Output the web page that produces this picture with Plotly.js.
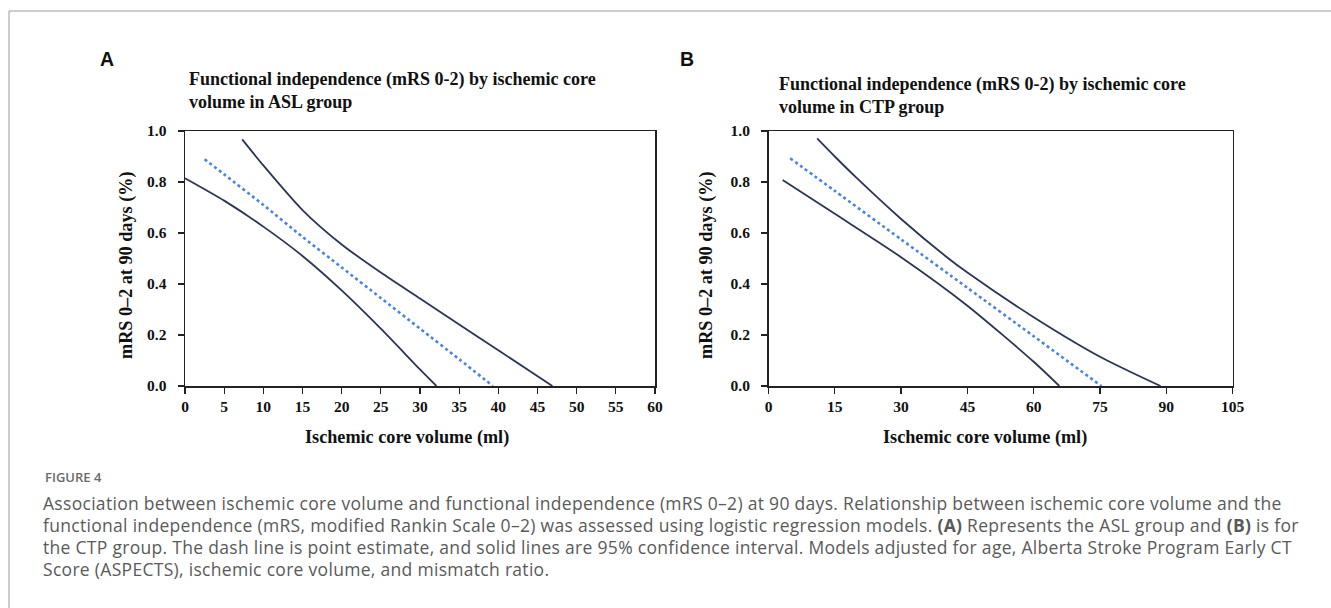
<!DOCTYPE html>
<html>
<head>
<meta charset="utf-8">
<script src="https://cdn.plot.ly/plotly-3.0.1.min.js"></script>
<style>html,body{margin:0;padding:0;background:#fff;}#chart{width:1331px;height:608px;}</style>
</head>
<body>
<div id="chart"></div>
<script>
// Panel A (ASL group)
const aEstX = [2.5, 5, 10, 15, 20, 25, 30, 35, 39.3];
const aEstY = [0.889, 0.83, 0.71, 0.585, 0.465, 0.345, 0.225, 0.105, 0.0];
const aLowX = [0, 5, 10, 15, 20, 25, 30, 32.1];
const aLowY = [0.815, 0.727, 0.625, 0.51, 0.375, 0.225, 0.065, 0.0];
const aUpX = [7.3, 10, 15, 20, 25, 30, 35, 40, 46.9];
const aUpY = [0.967, 0.865, 0.69, 0.555, 0.445, 0.343, 0.241, 0.14, 0.0];
// Panel B (CTP group)
const bEstX = [4.9, 15, 30, 45, 60, 75.3];
const bEstY = [0.893, 0.765, 0.575, 0.385, 0.195, 0.0];
const bLowX = [3.2, 15, 30, 45, 60, 65.8];
const bLowY = [0.808, 0.675, 0.505, 0.315, 0.095, 0.0];
const bUpX = [11, 15, 20, 30, 40, 45, 60, 75, 88.7];
const bUpY = [0.971, 0.90, 0.815, 0.655, 0.51, 0.445, 0.27, 0.115, 0.0];

const xTitle = "Ischemic core volume (ml)";
const yTitle = "mRS 0–2 at 90 days (%)";
const titleA = "Functional independence (mRS 0-2) by ischemic core<br>volume in ASL group";
const titleB = "Functional independence (mRS 0-2) by ischemic core<br>volume in CTP group";
const figLabel = "FIGURE 4";
const captionLines = [
  "Association between ischemic core volume and functional independence (mRS 0–2) at 90 days. Relationship between ischemic core volume and the",
  "functional independence (mRS, modified Rankin Scale 0–2) was assessed using logistic regression models. <b>(A)</b> Represents the ASL group and <b>(B)</b> is for",
  "the CTP group. The dash line is point estimate, and solid lines are 95% confidence interval. Models adjusted for age, Alberta Stroke Program Early CT",
  "Score (ASPECTS), ischemic core volume, and mismatch ratio."
];

const W = 1331, H = 608;
const px = v => v / W, py = v => 1 - v / H;

const solid = {color: '#2b3656', width: 1.8, shape: 'spline', smoothing: 0.7};
const dotted = {color: '#4a84e0', width: 2.6, dash: 'dot', shape: 'spline', smoothing: 0.7};

const traces = [
  {x: aLowX, y: aLowY, mode: 'lines', line: solid, xaxis: 'x', yaxis: 'y', name: 'Lower 95% CI'},
  {x: aUpX, y: aUpY, mode: 'lines', line: solid, xaxis: 'x', yaxis: 'y', name: 'Upper 95% CI'},
  {x: aEstX, y: aEstY, mode: 'lines', line: dotted, xaxis: 'x', yaxis: 'y', name: 'Point estimate'},
  {x: bLowX, y: bLowY, mode: 'lines', line: solid, xaxis: 'x2', yaxis: 'y2', name: 'Lower 95% CI'},
  {x: bUpX, y: bUpY, mode: 'lines', line: solid, xaxis: 'x2', yaxis: 'y2', name: 'Upper 95% CI'},
  {x: bEstX, y: bEstY, mode: 'lines', line: dotted, xaxis: 'x2', yaxis: 'y2', name: 'Point estimate'}
];

const serif = 'Liberation Serif, Times New Roman, serif';
const tickFont = {family: serif, size: 15.5, color: '#111', weight: 'bold'};
const axTitleFont = {family: serif, size: 18.2, color: '#111', weight: 'bold'};
const titleFont = {family: serif, size: 18, color: '#111', weight: 'bold'};

function xax(domain, max, dtick, anchor) {
  return {
    domain: domain, range: [0, max], dtick: dtick, tick0: 0, anchor: anchor,
    showline: true, linecolor: '#222', linewidth: 1.5, mirror: true,
    ticks: 'outside', ticklen: 6, tickwidth: 1.3, tickcolor: '#222',
    showgrid: false, zeroline: false, fixedrange: true,
    tickfont: tickFont
  };
}
function yax(domain, anchor) {
  return {
    domain: domain, range: [0, 1], dtick: 0.2, tick0: 0, tickformat: '.1f', anchor: anchor,
    showline: true, linecolor: '#222', linewidth: 1.5, mirror: true,
    ticks: 'outside', ticklen: 6, tickwidth: 1.3, tickcolor: '#222',
    ticklabelstandoff: 8,
    showgrid: false, zeroline: false, fixedrange: true,
    tickfont: tickFont
  };
}

const capFont = {family: 'Open Sans, Noto Sans, sans-serif', size: 17.5, color: '#5a5a5a'};
const captionAnn = captionLines.map((t, i) => ({
  text: t, xref: 'paper', yref: 'paper', x: px(43), y: py(503 + 22 * i), xanchor: 'left', yanchor: 'middle',
  showarrow: false, font: capFont
}));

function ann(text, x, y, font, extra) {
  return Object.assign({text: text, xref: 'paper', yref: 'paper', x: px(x), y: py(y), xanchor: 'center', yanchor: 'middle',
    showarrow: false, font: font}, extra || {});
}

const yDom = [py(386), py(131)];
const layout = {
  width: W, height: H,
  margin: {l: 0, r: 0, t: 0, b: 0},
  paper_bgcolor: '#ffffff', plot_bgcolor: '#ffffff',
  showlegend: false,
  font: {family: serif, color: '#111'},
  xaxis: xax([px(185), px(655)], 60, 5, 'y'),
  yaxis: yax(yDom, 'x'),
  xaxis2: xax([px(768.5), px(1232.6)], 105, 15, 'y2'),
  yaxis2: yax(yDom, 'x2'),
  shapes: [
    {type: 'line', xref: 'paper', yref: 'paper', x0: px(9), x1: 1, y0: py(11), y1: py(11), line: {color: '#9a9a9a', width: 1}},
    {type: 'line', xref: 'paper', yref: 'paper', x0: px(9), x1: px(9), y0: py(11), y1: 0, line: {color: '#9a9a9a', width: 1}}
  ],
  annotations: [
    ann('<b>A</b>', 106.5, 59, {family: 'Liberation Sans, Arial, sans-serif', size: 19.5, color: '#111'}),
    ann('<b>B</b>', 687, 59, {family: 'Liberation Sans, Arial, sans-serif', size: 19.5, color: '#111'}),
    ann(titleA, 187, 90.5, titleFont, {xanchor: 'left', align: 'left'}),
    ann(titleB, 777, 95.5, titleFont, {xanchor: 'left', align: 'left'}),
    ann(xTitle, 407, 437, axTitleFont),
    ann(xTitle, 985, 437, axTitleFont),
    ann(yTitle, 126, 266, axTitleFont, {textangle: -90}),
    ann(yTitle, 706, 266, axTitleFont, {textangle: -90}),
    ann(figLabel, 43, 477, {family: 'Open Sans, Noto Sans, sans-serif', size: 13, color: '#6a6a6a', weight: 600}, {xanchor: 'left'})
  ].concat(captionAnn)
};

Plotly.newPlot('chart', traces, layout, {displayModeBar: false, staticPlot: true}).then(gd => {
  gd.querySelectorAll('text.annotation-text').forEach(t => {
    if ((t.style.fontFamily || '').indexOf('Open Sans') >= 0 && t.textContent.length > 40) {
      t.style.letterSpacing = '0.3px';
      const r = t.getBoundingClientRect();
      const g = gd.getBoundingClientRect();
      const dx = 43 - (r.left - g.left);
      t.setAttribute('transform', 'translate(' + dx.toFixed(2) + ',0)');
    }
  });
});
</script>
</body>
</html>
